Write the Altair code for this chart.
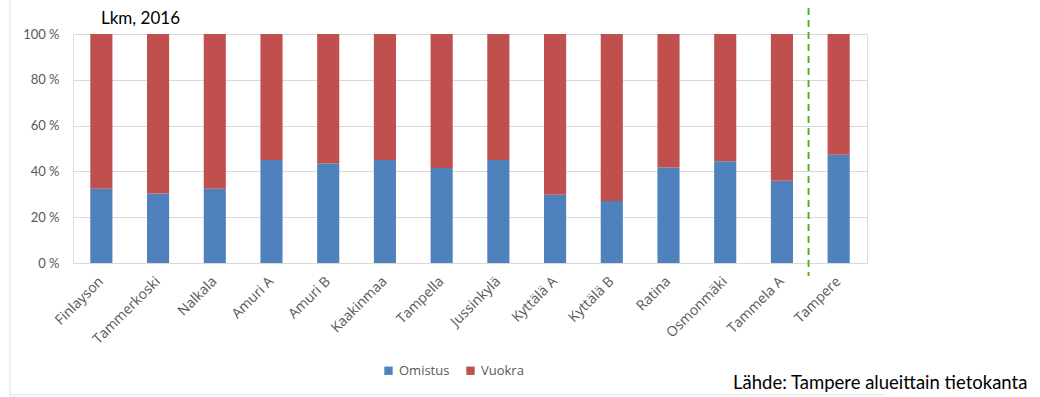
import altair as alt
import pandas as pd

areas = ["Finlayson", "Tammerkoski", "Nalkala", "Amuri A", "Amuri B", "Kaakinmaa",
         "Tampella", "Jussinkylä", "Kyttälä A", "Kyttälä B", "Ratina", "Osmonmäki",
         "Tammela A", "Tampere"]
omistus = [32.4, 30.4, 32.4, 45.0, 43.4, 45.0, 41.5, 45.0, 29.8, 27.1, 41.7, 44.4, 35.9, 47.3]
vuokra = [67.6, 69.6, 67.6, 55.0, 56.6, 55.0, 58.5, 55.0, 70.2, 72.9, 58.3, 55.6, 64.1, 52.7]
series = ["Omistus", "Vuokra"]
colors = ["#4F81BD", "#C0504D"]
title_text = "Lkm, 2016"
source_text = "Lähde: Tampere alueittain tietokanta"

rows = []
for a, o, v in zip(areas, omistus, vuokra):
    rows.append({"alue": a, "sarja": "Omistus", "arvo": o, "jarj": 0})
    rows.append({"alue": a, "sarja": "Vuokra", "arvo": v, "jarj": 1})
df = pd.DataFrame(rows)

W, H = 794, 229
FONT = "Lato"
GRAY = "#595959"

xscale = alt.Scale(domain=areas, paddingInner=0.61, paddingOuter=0.305)

bars = alt.Chart(df).mark_bar().encode(
    x=alt.X("alue:N", scale=xscale, sort=areas,
            axis=alt.Axis(title=None, labelAngle=-45, labelAlign="right", labelBaseline="middle",
                          labelPadding=16, ticks=False, domain=True, domainColor="#D9D9D9",
                          labelColor=GRAY, labelFont="Open Sans", labelFontSize=14, grid=False)),
    y=alt.Y("arvo:Q", stack="zero", scale=alt.Scale(domain=[0, 100], nice=False),
            axis=alt.Axis(title=None, values=[0, 20, 40, 60, 80, 100],
                          labelExpr="datum.value + ' %'", labelColor=GRAY, labelFont=FONT,
                          labelFontSize=13, labelPadding=14, ticks=False, domain=False,
                          grid=True, gridColor="#D9D9D9")),
    color=alt.Color("sarja:N", scale=alt.Scale(domain=series, range=colors),
                    legend=alt.Legend(title=None, orient="none", legendX=309, legendY=330,
                                      direction="horizontal", symbolType="square",
                                      symbolSize=70, symbolStrokeWidth=0,
                                      labelFont="Open Sans", labelFontSize=13, labelColor=GRAY,
                                      columnPadding=14, labelOffset=4)),
    order=alt.Order("jarj:Q"),
)

divider = alt.Chart(pd.DataFrame({"alue": ["Tampere"]})).mark_rule(
    color="#5BB318", strokeWidth=2, strokeDash=[7, 5], xOffset=-19
).encode(
    x=alt.X("alue:N", scale=xscale, sort=areas, bandPosition=0),
    y=alt.value(-26), y2=alt.value(H + 13),
)

title = alt.Chart(pd.DataFrame({"t": [title_text]})).mark_text(
    align="left", baseline="alphabetic", font=FONT, fontSize=17, color="#000000"
).encode(text="t:N", x=alt.value(28), y=alt.value(-10))

source = alt.Chart(pd.DataFrame({"t": [source_text]})).mark_text(
    align="left", baseline="alphabetic", font=FONT, fontSize=18.5, color="#000000"
).encode(text="t:N", x=alt.value(660), y=alt.value(355))

frame_left = alt.Chart(pd.DataFrame({"k": [0]})).mark_rule(color="#E0E0E0", strokeWidth=1).encode(
    x=alt.value(-63), y=alt.value(-34), y2=alt.value(362))
frame_bottom = alt.Chart(pd.DataFrame({"k": [0]})).mark_rule(color="#E0E0E0", strokeWidth=1).encode(
    x=alt.value(-63), x2=alt.value(811), y=alt.value(361))

chart = alt.layer(frame_left, frame_bottom, bars, divider, title, source).properties(
    width=W, height=H,
    autosize=alt.AutoSizeParams(type="none"),
    padding={"left": 73, "top": 34, "right": 1040 - 73 - W, "bottom": 397 - 34 - H},
).configure_view(stroke=None).configure(background="white")

chart.save("out.html", embed_options={"renderer": "svg", "actions": False})
